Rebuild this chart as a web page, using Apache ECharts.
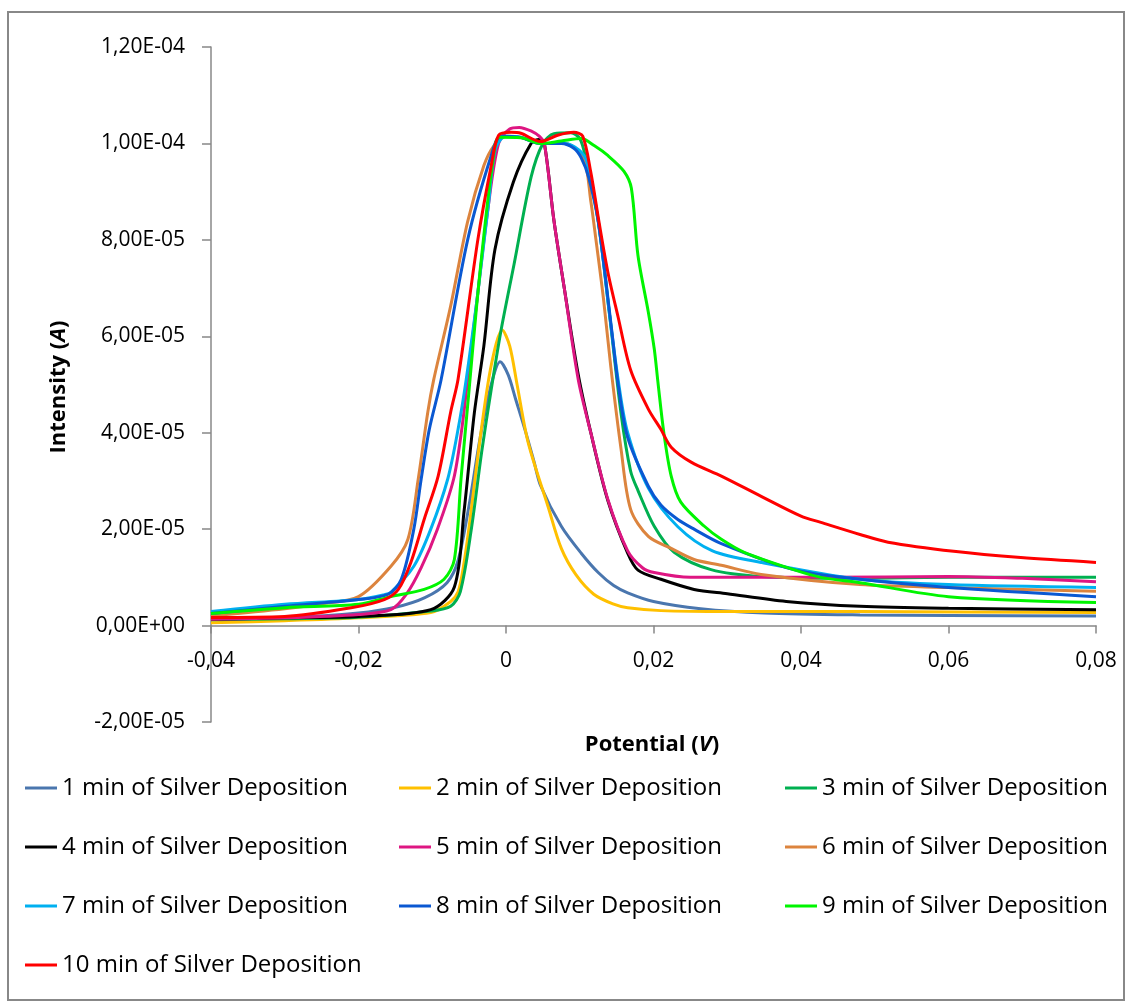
<!DOCTYPE html>
<html>
<head>
<meta charset="utf-8">
<script src="https://cdn.jsdelivr.net/npm/echarts@6/dist/echarts.min.js"></script>
<style>
html,body{margin:0;padding:0;background:#fff;}
#chart{width:1131px;height:1007px;}
</style>
</head>
<body>
<div id="chart"></div>
<script>
// ---- data (Potential V, Intensity A) ----
var names = ['1 min of Silver Deposition','2 min of Silver Deposition','3 min of Silver Deposition',
  '4 min of Silver Deposition','5 min of Silver Deposition','6 min of Silver Deposition',
  '7 min of Silver Deposition','8 min of Silver Deposition','9 min of Silver Deposition',
  '10 min of Silver Deposition'];
var colors = ['#4A76AE','#FFC000','#00B050','#000000','#DE1682','#DC843E','#00B0F0','#0A58D2','#00F500','#FF0000'];
var xTicks = [-0.04,-0.02,0,0.02,0.04,0.06,0.08];
var yTicks = [-2e-5,0,2e-5,4e-5,6e-5,8e-5,1e-4,1.2e-4];

var s1 = [[-0.04,1.3e-6],[-0.03,1.6e-6],[-0.02,2.6e-6],[-0.015,3.8e-6],[-0.011,5.8e-6],[-0.008,8.9e-6],[-0.0065,1.35e-5],[-0.005,2.5e-5],[-0.0035,3.9e-5],[-0.002,5.0e-5],[-0.0008,5.47e-5],[0.0003,5.2e-5],[0.0013,4.7e-5],[0.0026,4.05e-5],[0.0038,3.4e-5],[0.0047,2.9e-5],[0.0075,2.06e-5],[0.0102,1.5e-5],[0.0125,1.1e-5],[0.0146,8.3e-6],[0.0165,6.8e-6],[0.02,5.0e-6],[0.0264,3.5e-6],[0.035,2.6e-6],[0.048,2.2e-6],[0.06,2.1e-6],[0.08,2.0e-6]];
var s2 = [[-0.04,6e-7],[-0.03,1.0e-6],[-0.02,1.6e-6],[-0.0102,2.7e-6],[-0.0075,5.0e-6],[-0.0065,7.0e-6],[-0.0058,1.2e-5],[-0.0051,1.93e-5],[-0.0034,4.0e-5],[-0.002,5.4e-5],[-0.0005,6.13e-5],[0.0005,5.8e-5],[0.0015,5.0e-5],[0.003,3.8e-5],[0.0057,2.47e-5],[0.0075,1.6e-5],[0.0095,1.05e-5],[0.0119,6.5e-6],[0.0145,4.5e-6],[0.0165,3.7e-6],[0.021,3.1e-6],[0.03,2.9e-6],[0.048,2.9e-6],[0.08,2.7e-6]];
var s3 = [[-0.04,1.2e-6],[-0.03,1.4e-6],[-0.02,1.7e-6],[-0.0102,3.0e-6],[-0.0075,4.0e-6],[-0.0062,7e-6],[-0.0047,2.0e-5],[-0.0033,3.6e-5],[-0.002,4.9e-5],[-0.0007,6.1e-5],[0.0011,7.5e-5],[0.0034,9.3e-5],[0.005,1.0e-4],[0.0065,1.02e-4],[0.0088,1.022e-4],[0.01,1.01e-4],[0.0108,9.7e-5],[0.0125,8.4e-5],[0.014,6.5e-5],[0.0156,4.4e-5],[0.0169,3.2e-5],[0.0179,2.8e-5],[0.0201,2.06e-5],[0.0228,1.52e-5],[0.0278,1.16e-5],[0.0346,1.02e-5],[0.048,9.8e-6],[0.06,1.0e-5],[0.08,1.0e-5]];
var s4 = [[-0.04,1.3e-6],[-0.03,1.6e-6],[-0.02,1.9e-6],[-0.0102,3.3e-6],[-0.007,8.0e-6],[-0.0057,2.35e-5],[-0.0043,4.4e-5],[-0.003,5.8e-5],[-0.0015,7.8e-5],[0.001,9.2e-5],[0.0034,1.0e-4],[0.0045,1.008e-4],[0.0052,1.0e-4],[0.0065,8.4e-5],[0.0079,7.0e-5],[0.0098,5.2e-5],[0.0115,4.0e-5],[0.0138,2.6e-5],[0.0165,1.5e-5],[0.0179,1.15e-5],[0.021,9.6e-6],[0.0255,7.5e-6],[0.03,6.6e-6],[0.038,5.0e-6],[0.048,4.0e-6],[0.06,3.6e-6],[0.08,3.3e-6]];
var s5 = [[-0.04,1.3e-6],[-0.03,1.6e-6],[-0.02,2.3e-6],[-0.0156,3.3e-6],[-0.0135,6.5e-6],[-0.0115,1.2e-5],[-0.0093,2.0e-5],[-0.0071,3.04e-5],[-0.006,4.07e-5],[-0.0052,5.1e-5],[-0.0039,6.8e-5],[-0.0024,8.7e-5],[-0.001,1.0e-4],[0.0005,1.03e-4],[0.0018,1.033e-4],[0.0035,1.025e-4],[0.0045,1.015e-4],[0.0052,1.0e-4],[0.0065,8.4e-5],[0.0079,7.0e-5],[0.0098,5.1e-5],[0.0115,4.0e-5],[0.0138,2.62e-5],[0.0165,1.55e-5],[0.0185,1.2e-5],[0.0201,1.1e-5],[0.025,1.0e-5],[0.03,1.0e-5],[0.043,1.0e-5],[0.06,1.02e-5],[0.07,9.8e-6],[0.08,9.1e-6]];
var s6 = [[-0.04,2.0e-6],[-0.03,3.5e-6],[-0.025,4.5e-6],[-0.02,6.0e-6],[-0.0156,1.23e-5],[-0.0133,1.79e-5],[-0.0119,3.04e-5],[-0.0106,4.43e-5],[-0.0098,5.1e-5],[-0.0075,6.63e-5],[-0.0052,8.38e-5],[-0.003,9.54e-5],[-0.0016,9.96e-5],[0,1.015e-4],[0.002,1.013e-4],[0.0047,1.0e-4],[0.008,1.0e-4],[0.0105,9.7e-5],[0.0115,8.8e-5],[0.0122,8.0e-5],[0.0132,6.8e-5],[0.0142,5.38e-5],[0.0156,3.66e-5],[0.0169,2.41e-5],[0.0193,1.85e-5],[0.0224,1.6e-5],[0.0255,1.37e-5],[0.0292,1.25e-5],[0.0346,1.06e-5],[0.048,8.5e-6],[0.06,7.9e-6],[0.08,7.1e-6]];
var s7 = [[-0.04,2.9e-6],[-0.03,4.4e-6],[-0.02,5.4e-6],[-0.0165,6.4e-6],[-0.0156,6.9e-6],[-0.0125,1.23e-5],[-0.0102,2.0e-5],[-0.0079,3.04e-5],[-0.0065,4.07e-5],[-0.0054,5.1e-5],[-0.0039,6.8e-5],[-0.0024,8.7e-5],[-0.0014,9.9e-5],[0,1.015e-4],[0.002,1.013e-4],[0.0047,1.0e-4],[0.008,1.0e-4],[0.01,9.85e-5],[0.011,9.6e-5],[0.0125,8.4e-5],[0.014,6.5e-5],[0.0153,5.0e-5],[0.0165,4.0e-5],[0.0193,2.85e-5],[0.0233,2.05e-5],[0.028,1.55e-5],[0.0346,1.31e-5],[0.048,9.6e-6],[0.06,8.5e-6],[0.08,7.9e-6]];
var s8 = [[-0.04,2.5e-6],[-0.03,4.0e-6],[-0.02,5.4e-6],[-0.016,6.5e-6],[-0.0142,9.6e-6],[-0.0125,2.0e-5],[-0.0115,3.04e-5],[-0.0104,4.07e-5],[-0.0088,5.1e-5],[-0.0052,8.0e-5],[-0.002,9.75e-5],[-0.0007,1.015e-4],[0.002,1.012e-4],[0.0047,1.0e-4],[0.0075,1.0e-4],[0.0092,9.9e-5],[0.0102,9.7e-5],[0.0112,9.3e-5],[0.0125,8.38e-5],[0.0142,6.3e-5],[0.0153,4.9e-5],[0.0165,3.9e-5],[0.0193,2.89e-5],[0.021,2.5e-5],[0.0233,2.2e-5],[0.0255,2.0e-5],[0.0292,1.7e-5],[0.039,1.16e-5],[0.048,9.6e-6],[0.06,7.9e-6],[0.08,6.0e-6]];
var s9 = [[-0.04,2.5e-6],[-0.03,3.7e-6],[-0.02,4.4e-6],[-0.0156,6.0e-6],[-0.0111,7.5e-6],[-0.0084,9.6e-6],[-0.007,1.37e-5],[-0.0061,3.04e-5],[-0.005,4.9e-5],[-0.004,6.6e-5],[-0.003,8.1e-5],[-0.0018,9.6e-5],[-0.0009,1.013e-4],[0.002,1.012e-4],[0.0047,1.0e-4],[0.0075,1.005e-4],[0.0102,1.01e-4],[0.012,9.95e-5],[0.0138,9.75e-5],[0.016,9.42e-5],[0.017,9.07e-5],[0.0179,7.67e-5],[0.0193,6.5e-5],[0.0201,5.74e-5],[0.0206,5.05e-5],[0.0214,4.0e-5],[0.0224,3.1e-5],[0.0237,2.56e-5],[0.0269,2.06e-5],[0.0292,1.79e-5],[0.0323,1.52e-5],[0.039,1.16e-5],[0.0427,1.0e-5],[0.048,8.9e-6],[0.06,6.0e-6],[0.08,4.8e-6]];
var s10 = [[-0.04,1.7e-6],[-0.03,1.9e-6],[-0.021,3.7e-6],[-0.0165,5.4e-6],[-0.0146,7.5e-6],[-0.0129,1.31e-5],[-0.0111,2.2e-5],[-0.0092,3.1e-5],[-0.0075,4.43e-5],[-0.0065,5.11e-5],[-0.0038,8.02e-5],[-0.002,9.54e-5],[-0.001,1.017e-4],[0.0007,1.023e-4],[0.002,1.021e-4],[0.0047,1.004e-4],[0.007,1.017e-4],[0.0092,1.023e-4],[0.0104,1.015e-4],[0.0115,9.4e-5],[0.0126,8.38e-5],[0.0138,7.34e-5],[0.0152,6.4e-5],[0.0169,5.3e-5],[0.0193,4.49e-5],[0.021,4.07e-5],[0.0224,3.7e-5],[0.0251,3.39e-5],[0.0292,3.1e-5],[0.0346,2.68e-5],[0.04,2.27e-5],[0.0427,2.14e-5],[0.048,1.89e-5],[0.0518,1.73e-5],[0.0607,1.54e-5],[0.0698,1.41e-5],[0.08,1.31e-5]];
var seriesData = [s1,s2,s3,s4,s5,s6,s7,s8,s9,s10];

// ---- chart ----
var chart = echarts.init(document.getElementById('chart'), null, {renderer:'canvas'});
var FONT = 'Open Sans';
var axisGray = '#888888';
var gridTop = 47, gridBottom = 285, gridH = 1007 - gridTop - gridBottom;
var yMin = yTicks[0], yMax = yTicks[yTicks.length-1];
var zeroOffset = gridH * (0 - yMin) / (yMax - yMin);

function fmtY(v){
  if (Math.abs(v) < 1e-12) return '0,00E+00';
  var s = v.toExponential(2).split('e');
  var e = parseInt(s[1],10);
  var ae = Math.abs(e);
  return s[0].replace('.',',') + 'E' + (e<0?'-':'+') + (ae<10?'0'+ae:ae);
}
function fmtX(v){
  if (Math.abs(v) < 1e-12) return '0';
  return (Math.round(v*100)/100).toFixed(2).replace('.',',');
}

var series = seriesData.map(function(d,i){
  return {
    name: names[i], type:'line', data:d, showSymbol:false, symbol:'none',
    smooth:0.3,
    color: colors[i],
    lineStyle:{color:colors[i], width:3},
    emphasis:{disabled:true}, z: 2+i
  };
});

function legendCol(idx, left){
  return {
    data: idx.map(function(i){return names[i];}),
    orient:'vertical', left:left, top:771,
    icon:'rect', itemWidth:32, itemHeight:3, itemGap:35,
    textStyle:{fontFamily:FONT, fontSize:24, color:'#000', lineHeight:24},
    selectedMode:false
  };
}

chart.setOption({
  animation:false,
  backgroundColor:'#ffffff',
  grid:{left:211, right:35, top:gridTop, bottom:gridBottom, containLabel:false},
  xAxis:{
    type:'value', min:xTicks[0], max:xTicks[xTicks.length-1], interval:0.02,
    position:'bottom', offset:-zeroOffset,
    axisLine:{show:true, onZero:false, lineStyle:{color:axisGray, width:1.5}},
    axisTick:{show:true, inside:false, length:8, lineStyle:{color:axisGray, width:1.5}},
    axisLabel:{formatter:fmtX, fontFamily:FONT, fontSize:21, color:'#000', margin:25},
    splitLine:{show:false}
  },
  yAxis:{
    type:'value', min:yMin, max:yMax, interval:2e-5,
    axisLine:{show:true, onZero:false, lineStyle:{color:axisGray, width:1.5}},
    axisTick:{show:true, inside:false, length:9, lineStyle:{color:axisGray, width:1.5}},
    axisLabel:{formatter:fmtY, fontFamily:FONT, fontSize:21, color:'#000', margin:26},
    splitLine:{show:false}
  },
  legend:[
    legendCol([0,3,6,9], 20),
    legendCol([1,4,7], 394),
    legendCol([2,5,8], 780)
  ],
  graphic:[
    {type:'rect', shape:{x:8, y:12, width:1116, height:988}, style:{fill:'none', stroke:'#888888', lineWidth:2}, z:-1, silent:true},
    {type:'text', x:59, y:387, rotation:Math.PI/2, silent:true,
     style:{text:'{b|Intensity (}{i|A}{b|)}', textAlign:'center', textVerticalAlign:'middle',
       rich:{b:{fontFamily:FONT, fontSize:22, fontWeight:'bold', fill:'#000'},
             i:{fontFamily:FONT, fontSize:22, fontWeight:'bold', fontStyle:'italic', fill:'#000'}}}},
    {type:'text', x:652, y:745, silent:true,
     style:{text:'{b|Potential (}{i|V}{b|)}', textAlign:'center', textVerticalAlign:'middle',
       rich:{b:{fontFamily:FONT, fontSize:22, fontWeight:'bold', fill:'#000'},
             i:{fontFamily:FONT, fontSize:22, fontWeight:'bold', fontStyle:'italic', fill:'#000'}}}}
  ],
  series: series
});
</script>
</body>
</html>
